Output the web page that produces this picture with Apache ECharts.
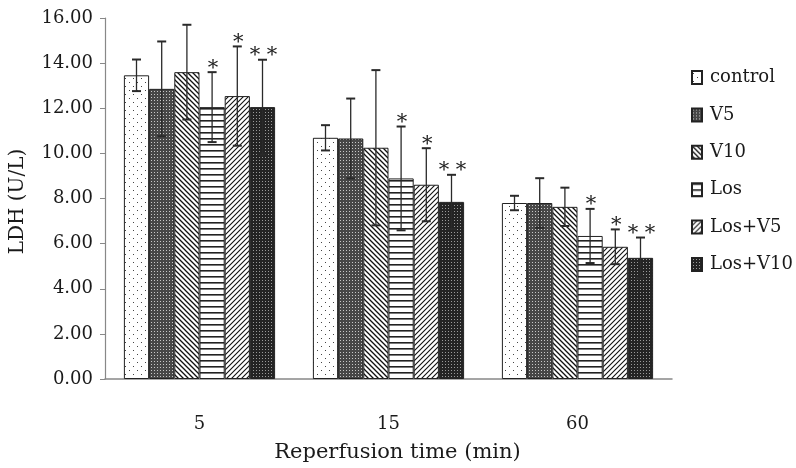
<!DOCTYPE html>
<html>
<head>
<meta charset="utf-8">
<script src="https://cdn.jsdelivr.net/npm/echarts@6/dist/echarts.min.js"></script>
<style>
  html, body { margin: 0; padding: 0; background: #fff; }
  #chart { width: 796px; height: 468px; }
</style>
</head>
<body>
<div id="chart"></div>
<script>
// ---- data ----
const categories = ['5', '15', '60'];
const seriesNames = ['control', 'V5', 'V10', 'Los', 'Los+V5', 'Los+V10'];
const yTicks = [0, 2, 4, 6, 8, 10, 12, 14, 16];

const control    = [13.46, 10.69, 7.80];
const v5         = [12.86, 10.66, 7.80];
const v10        = [13.60, 10.25, 7.63];
const los        = [12.05, 8.89, 6.34];
const losV5      = [12.54, 8.61, 5.86];
const losV10     = [12.05, 7.85, 5.37];

const controlErr = [0.70, 0.56, 0.32];
const v5Err      = [2.10, 1.77, 1.10];
const v10Err     = [2.10, 3.44, 0.85];
const losErr     = [1.55, 2.30, 1.20];
const losV5Err   = [2.20, 1.62, 0.77];
const losV10Err  = [2.10, 1.20, 0.90];

const controlSig = ['', '', ''];
const v5Sig      = ['', '', ''];
const v10Sig     = ['', '', ''];
const losSig     = ['*', '*', '*'];
const losV5Sig   = ['*', '*', '*'];
const losV10Sig  = ['* *', '* *', '* *'];

const values = [control, v5, v10, los, losV5, losV10];
const errors = [controlErr, v5Err, v10Err, losErr, losV5Err, losV10Err];
const sigs   = [controlSig, v5Sig, v10Sig, losSig, losV5Sig, losV10Sig];

// ---- patterns ----
function tile(w, h, draw) {
  const c = document.createElement('canvas');
  c.width = w; c.height = h;
  const g = c.getContext('2d');
  g.fillStyle = '#fff';
  g.fillRect(0, 0, w, h);
  draw(g, w, h);
  return c;
}
const patterns = [
  // control: sparse dots
  tile(8, 8, (g) => { g.fillStyle = '#444'; g.fillRect(1, 2, 1, 1); g.fillRect(5, 6, 1, 1); }),
  // V5: medium dark fine texture
  tile(3, 3, (g) => { g.fillStyle = '#474747'; g.fillRect(0, 0, 3, 3); g.fillStyle = '#c8c8c8'; g.fillRect(1, 1, 1, 1); }),
  // V10: backslash diagonals
  tile(5, 5, (g, w, h) => {
    g.strokeStyle = '#111'; g.lineWidth = 1.3;
    g.beginPath();
    g.moveTo(-1, -1); g.lineTo(w + 1, h + 1);
    g.moveTo(-1, h - 1); g.lineTo(1, h + 1);
    g.moveTo(w - 1, -1); g.lineTo(w + 1, 1);
    g.stroke();
  }),
  // Los: horizontal lines
  tile(4, 6, (g, w) => { g.fillStyle = '#222'; g.fillRect(0, 0, w, 1.6); }),
  // Los+V5: forward-slash diagonals
  tile(5, 5, (g, w, h) => {
    g.strokeStyle = '#111'; g.lineWidth = 1.1;
    g.beginPath();
    g.moveTo(-1, h + 1); g.lineTo(w + 1, -1);
    g.moveTo(-1, 1); g.lineTo(1, -1);
    g.moveTo(w - 1, h + 1); g.lineTo(w + 1, h - 1);
    g.stroke();
  }),
  // Los+V10: dark with light dot grid
  tile(3, 3, (g) => { g.fillStyle = '#242424'; g.fillRect(0, 0, 3, 3); g.fillStyle = '#9a9a9a'; g.fillRect(1, 1, 1, 1); })
];

const FONT = '"DejaVu Serif", serif';
const TXT = '#1a1a1a';

const barSeries = seriesNames.map((name, i) => ({
  name: name,
  type: 'bar',
  data: values[i],
  barGap: '0%',
  barCategoryGap: '20%',
  itemStyle: {
    color: { image: patterns[i], repeat: 'repeat' },
    borderColor: '#222',
    borderWidth: 1
  },
  emphasis: { disabled: true },
  z: 2
}));

const errData = [];
for (let s = 0; s < seriesNames.length; s++) {
  for (let c = 0; c < categories.length; c++) {
    errData.push([c, values[s][c], errors[s][c], s, sigs[s][c]]);
  }
}

const errorSeries = {
  type: 'custom',
  data: errData,
  encode: { x: 0, y: 1 },
  z: 10,
  silent: true,
  renderItem: function (params, api) {
    const c = api.value(0);
    const v = api.value(1);
    const e = api.value(2);
    const s = api.value(3);
    const sig = errData[params.dataIndex][4];
    const band = api.size([1, 0])[0];
    const bw = band * 0.8 / seriesNames.length;
    const base = api.coord([c, v]);
    const x = base[0] + (s - (seriesNames.length - 1) / 2) * bw;
    const hi = api.coord([c, v + e])[1];
    const lo = api.coord([c, v - e])[1];
    const cap = 4.5;
    const ls = { stroke: '#2a2a2a', lineWidth: 1.3 };
    const children = [
      { type: 'line', shape: { x1: x, y1: hi, x2: x, y2: lo }, style: ls },
      { type: 'line', shape: { x1: x - cap, y1: hi, x2: x + cap, y2: hi }, style: { stroke: '#2a2a2a', lineWidth: 2 } },
      { type: 'line', shape: { x1: x - cap, y1: lo, x2: x + cap, y2: lo }, style: { stroke: '#2a2a2a', lineWidth: 2 } }
    ];
    if (sig) {
      children.push({
        type: 'text',
        style: {
          text: sig, x: x + 1, y: hi - 4,
          align: 'center', verticalAlign: 'middle',
          font: '21px ' + FONT, fill: '#222'
        }
      });
    }
    return { type: 'group', children: children };
  }
};

const chart = echarts.init(document.getElementById('chart'), null, { renderer: 'canvas' });
chart.setOption({
  animation: false,
  backgroundColor: '#fff',
  grid: { left: 102, right: 124, top: 18, bottom: 88, containLabel: false },
  legend: {
    data: seriesNames,
    orient: 'vertical',
    left: 686,
    top: 62,
    icon: 'rect',
    itemWidth: 10,
    itemHeight: 13,
    itemGap: 16.4,
    selectedMode: false,
    textStyle: { fontFamily: FONT, fontSize: 18, color: TXT, lineHeight: 21, padding: [0, 0, 0, 3] }
  },
  xAxis: {
    type: 'category',
    data: categories,
    axisTick: { show: false },
    axisLine: { lineStyle: { color: '#888', width: 1.5 } },
    axisLabel: { margin: 36, fontFamily: FONT, fontSize: 18, color: TXT },
    name: 'Reperfusion time (min)',
    nameLocation: 'middle',
    nameGap: 63,
    nameTextStyle: { fontFamily: FONT, fontSize: 21, color: TXT, padding: [0, 0, 0, 18] }
  },
  yAxis: {
    type: 'value',
    min: yTicks[0],
    max: yTicks[yTicks.length - 1],
    interval: yTicks[1] - yTicks[0],
    axisLine: { show: true, lineStyle: { color: '#888', width: 1.2 } },
    axisTick: { show: true, inside: false, length: 5, lineStyle: { color: '#888' } },
    splitLine: { show: false },
    axisLabel: { margin: 12, fontFamily: FONT, fontSize: 18, color: TXT, formatter: (v) => v.toFixed(2) },
    name: 'LDH (U/L)',
    nameLocation: 'middle',
    nameRotate: 90,
    nameGap: 77,
    nameTextStyle: { fontFamily: FONT, fontSize: 20, color: TXT, padding: [0, 6, 0, 0] }
  },
  series: barSeries.concat([errorSeries])
});
</script>
</body>
</html>
